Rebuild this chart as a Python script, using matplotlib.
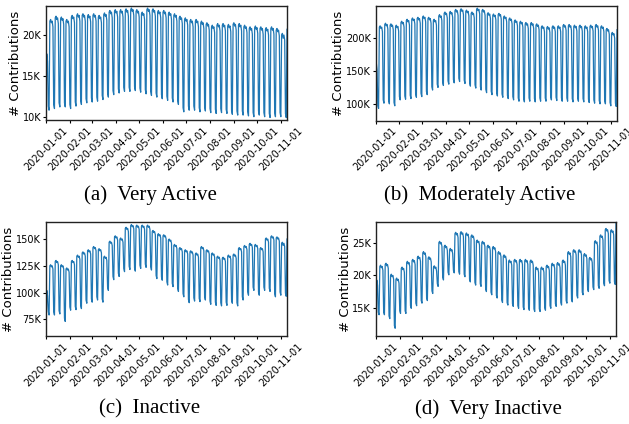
import matplotlib
matplotlib.use("Agg")
import matplotlib.pyplot as plt
import matplotlib.dates as mdates
from matplotlib.ticker import FuncFormatter
import pandas as pd

# ---------------- data (values in thousands of contributions) ----------------
start_date = "2020-01-01"
end_date = "2020-11-09"

# (a) Very Active: first partial week (Wed-Sun), full weeks Mon..Sun, final Monday
va_start = [10.0, 17.7, 16.8, 11.3, 10.8]
va_weeks = [
    [21.7, 21.9, 21.5, 21.7, 21.0, 11.5, 11.0],
    [22.1, 22.3, 21.9, 22.1, 21.4, 11.7, 11.2],
    [22.0, 22.2, 21.8, 22.0, 21.3, 11.7, 11.2],
    [21.7, 21.9, 21.5, 21.7, 21.0, 11.5, 11.0],
    [22.2, 22.4, 22.0, 22.2, 21.5, 11.8, 11.3],
    [22.4, 22.6, 22.2, 22.4, 21.7, 12.0, 11.5],
    [22.4, 22.6, 22.2, 22.4, 21.7, 12.2, 11.7],
    [22.3, 22.5, 22.1, 22.3, 21.6, 12.3, 11.8],
    [22.4, 22.6, 22.2, 22.4, 21.7, 12.4, 11.9],
    [22.2, 22.4, 22.0, 22.2, 21.5, 12.6, 12.1],
    [22.5, 22.7, 22.3, 22.5, 21.8, 12.9, 12.4],
    [22.8, 23.0, 22.6, 22.8, 22.1, 13.2, 12.7],
    [22.9, 23.1, 22.7, 22.9, 22.2, 13.4, 12.9],
    [22.9, 23.1, 22.7, 22.9, 22.2, 13.6, 13.1],
    [23.0, 23.2, 22.8, 23.0, 22.3, 13.6, 13.1],
    [23.1, 23.3, 22.9, 23.1, 22.4, 13.7, 13.2],
    [22.9, 23.1, 22.7, 22.9, 22.2, 13.5, 13.0],
    [22.6, 22.8, 22.4, 22.6, 21.9, 13.3, 12.8],
    [23.1, 23.3, 22.9, 23.1, 22.4, 13.1, 12.6],
    [23.0, 23.2, 22.8, 23.0, 22.3, 12.9, 12.4],
    [22.8, 23.0, 22.6, 22.8, 22.1, 12.7, 12.2],
    [22.8, 23.0, 22.6, 22.8, 22.1, 12.5, 12.0],
    [22.6, 22.8, 22.4, 22.6, 21.9, 12.3, 11.8],
    [22.4, 22.6, 22.2, 22.4, 21.7, 12.0, 11.5],
    [22.1, 22.3, 21.9, 22.1, 21.4, 11.1, 10.6],
    [21.9, 22.1, 21.7, 21.9, 21.2, 11.3, 10.8],
    [21.7, 21.9, 21.5, 21.7, 21.0, 11.3, 10.8],
    [21.7, 21.9, 21.5, 21.7, 21.0, 11.1, 10.6],
    [21.5, 21.7, 21.3, 21.5, 20.8, 11.2, 10.7],
    [21.3, 21.5, 21.1, 21.3, 20.6, 11.0, 10.5],
    [21.0, 21.2, 20.8, 21.0, 20.3, 10.9, 10.4],
    [21.2, 21.4, 21.0, 21.2, 20.5, 11.0, 10.5],
    [21.2, 21.4, 21.0, 21.2, 20.5, 10.9, 10.4],
    [21.1, 21.3, 20.9, 21.1, 20.4, 10.8, 10.3],
    [21.3, 21.5, 21.1, 21.3, 20.6, 10.7, 10.2],
    [21.2, 21.4, 21.0, 21.2, 20.5, 10.7, 10.2],
    [21.0, 21.2, 20.8, 21.0, 20.3, 10.6, 10.1],
    [20.8, 21.0, 20.6, 20.8, 20.1, 10.5, 10.0],
    [20.9, 21.1, 20.7, 20.9, 20.2, 10.7, 10.2],
    [20.8, 21.0, 20.6, 20.8, 20.1, 10.5, 10.0],
    [20.7, 20.9, 20.5, 20.7, 20.0, 10.4, 9.9],
    [20.8, 21.0, 20.6, 20.8, 20.1, 10.5, 10.0],
    [20.6, 20.8, 20.4, 20.6, 19.9, 10.5, 10.0],
    [20.0, 20.2, 19.6, 20.0, 19.4, 10.4, 9.9],
]
va_end = [20.7]

# (b) Moderately Active
ma_start = [78, 163, 152, 97, 93]
ma_weeks = [
    [217, 219, 215, 217, 210, 106, 101],
    [221, 223, 219, 221, 214, 105, 100],
    [220, 222, 218, 220, 213, 102, 97],
    [218, 220, 216, 218, 211, 111, 106],
    [224, 226, 222, 224, 217, 112, 107],
    [227, 229, 225, 227, 220, 113, 108],
    [229, 231, 227, 229, 222, 115, 110],
    [230, 232, 228, 230, 223, 116, 111],
    [232, 234, 230, 232, 225, 119, 114],
    [230, 232, 228, 230, 223, 126, 121],
    [227, 229, 225, 227, 220, 130, 125],
    [234, 236, 232, 234, 227, 133, 128],
    [238, 240, 236, 238, 231, 135, 130],
    [239, 241, 237, 239, 232, 137, 132],
    [242, 244, 240, 242, 235, 139, 134],
    [243, 245, 241, 243, 236, 136, 131],
    [241, 243, 239, 241, 234, 132, 127],
    [238, 240, 236, 238, 231, 129, 124],
    [244, 246, 242, 244, 237, 126, 121],
    [242, 244, 240, 242, 235, 122, 117],
    [237, 239, 235, 237, 230, 119, 114],
    [235, 237, 233, 235, 228, 117, 112],
    [236, 238, 234, 236, 229, 115, 110],
    [232, 234, 230, 232, 225, 113, 108],
    [229, 231, 227, 229, 222, 111, 106],
    [226, 228, 224, 226, 219, 109, 104],
    [224, 226, 222, 224, 217, 108, 103],
    [222, 224, 220, 222, 215, 109, 104],
    [222, 224, 220, 222, 215, 108, 103],
    [220, 222, 218, 220, 213, 109, 104],
    [217, 219, 215, 217, 210, 109, 104],
    [216, 218, 214, 216, 209, 111, 106],
    [217, 219, 215, 217, 210, 110, 105],
    [217, 219, 215, 217, 210, 109, 104],
    [219, 221, 217, 219, 212, 109, 104],
    [219, 221, 217, 219, 212, 108, 103],
    [218, 220, 216, 218, 211, 109, 104],
    [218, 220, 216, 218, 211, 108, 103],
    [217, 219, 215, 217, 210, 107, 102],
    [218, 220, 216, 218, 211, 106, 101],
    [219, 221, 217, 219, 212, 105, 100],
    [217, 219, 215, 217, 210, 105, 100],
    [213, 215, 211, 213, 206, 102, 97],
    [207, 209, 205, 207, 200, 101, 96],
]
ma_end = [213]

# (c) Inactive
ia_start = [61.5, 102, 97, 82, 79]
ia_weeks = [
    [125, 126, 124, 125, 122, 82, 79],
    [129, 130, 128, 129, 126, 83, 80],
    [125, 126, 124, 125, 122, 76, 73],
    [122, 123, 121, 122, 119, 86.5, 83.5],
    [129, 130, 128, 129, 126, 87, 84],
    [134, 135, 133, 134, 131, 88, 85],
    [137, 138, 136, 137, 134, 93, 90],
    [139, 140, 138, 139, 136, 94, 91],
    [142, 143, 141, 142, 139, 96, 93],
    [140, 141, 139, 140, 137, 94, 91],
    [133, 134, 132, 133, 130, 105, 102],
    [147, 148, 146, 147, 144, 115, 112],
    [152, 153, 151, 152, 149, 118, 115],
    [150, 151, 149, 150, 147, 122.5, 119.5],
    [160, 161, 159, 160, 157, 124.5, 121.5],
    [162.5, 163.5, 161.5, 162.5, 159.5, 123, 120],
    [162, 163, 161, 162, 159, 125.5, 122.5],
    [162, 163, 161, 162, 159, 126.5, 123.5],
    [162, 163, 161, 162, 159, 124, 121],
    [157, 158, 156, 157, 154, 116, 113],
    [154, 155, 153, 154, 151, 114.5, 111.5],
    [153, 154, 152, 153, 150, 110, 107],
    [149, 150, 148, 149, 146, 108.5, 105.5],
    [144, 145, 143, 144, 141, 104, 101],
    [141, 142, 140, 141, 138, 99, 96],
    [139, 140, 138, 139, 136, 93.5, 90.5],
    [138, 139, 137, 138, 135, 95, 92],
    [136, 137, 135, 136, 133, 94.5, 91.5],
    [142, 143, 141, 142, 139, 96, 93],
    [139, 140, 138, 139, 136, 92, 89],
    [136, 137, 135, 136, 133, 91, 88],
    [133, 134, 132, 133, 130, 90.5, 87.5],
    [132, 133, 131, 132, 129, 91, 88],
    [134, 135, 133, 134, 131, 93, 90],
    [135, 136, 134, 135, 132, 90.5, 87.5],
    [141, 142, 140, 141, 138, 96, 93],
    [143, 144, 142, 143, 140, 100.5, 97.5],
    [145, 146, 144, 145, 142, 105, 102],
    [144, 145, 143, 144, 141, 100.5, 97.5],
    [141, 142, 140, 141, 138, 105, 102],
    [150, 151, 149, 150, 147, 104, 101],
    [152, 153, 151, 152, 149, 99, 96],
    [151, 152, 150, 151, 148, 100.5, 97.5],
    [146, 147, 144, 146, 143, 99.5, 96.5],
]
ia_end = [150]

# (d) Very Inactive
vi_start = [11.0, 19.3, 18.5, 14.3, 13.9]
vi_weeks = [
    [21.4, 21.6, 21.2, 21.4, 20.8, 14.3, 13.9],
    [21.7, 21.9, 21.5, 21.7, 21.1, 13.7, 13.3],
    [20.0, 20.2, 19.8, 20.0, 19.4, 12.2, 11.8],
    [19.4, 19.6, 19.2, 19.4, 18.8, 14.5, 14.1],
    [21.1, 21.3, 20.9, 21.1, 20.5, 14.5, 14.1],
    [22.0, 22.2, 21.8, 22.0, 21.4, 15.3, 14.9],
    [22.3, 22.5, 22.1, 22.3, 21.7, 15.7, 15.3],
    [22.8, 23.0, 22.6, 22.8, 22.2, 16.1, 15.7],
    [23.5, 23.7, 23.3, 23.5, 22.9, 16.5, 16.1],
    [22.7, 22.9, 22.5, 22.7, 22.1, 17.6, 17.2],
    [21.3, 21.5, 21.1, 21.3, 20.7, 18.7, 18.3],
    [25.1, 25.3, 24.9, 25.1, 24.5, 19.7, 19.3],
    [24.5, 24.7, 24.3, 24.5, 23.9, 20.5, 20.1],
    [24.0, 24.2, 23.8, 24.0, 23.4, 20.8, 20.4],
    [26.5, 26.7, 26.3, 26.5, 25.9, 20.6, 20.2],
    [26.6, 26.8, 26.4, 26.6, 26.0, 20.2, 19.8],
    [26.4, 26.6, 26.2, 26.4, 25.8, 19.4, 19.0],
    [26.1, 26.3, 25.9, 26.1, 25.5, 18.9, 18.5],
    [25.3, 25.5, 25.1, 25.3, 24.7, 18.7, 18.3],
    [25.1, 25.3, 24.9, 25.1, 24.5, 17.9, 17.5],
    [24.5, 24.7, 24.3, 24.5, 23.9, 17.4, 17.0],
    [24.3, 24.5, 24.1, 24.3, 23.7, 16.9, 16.5],
    [23.5, 23.7, 23.3, 23.5, 22.9, 16.2, 15.8],
    [23.0, 23.2, 22.8, 23.0, 22.4, 15.8, 15.4],
    [22.2, 22.4, 22.0, 22.2, 21.6, 15.6, 15.2],
    [22.3, 22.5, 22.1, 22.3, 21.7, 15.3, 14.9],
    [22.3, 22.5, 22.1, 22.3, 21.7, 15.1, 14.7],
    [22.3, 22.5, 22.1, 22.3, 21.7, 15.0, 14.6],
    [22.2, 22.4, 22.0, 22.2, 21.6, 14.8, 14.4],
    [21.1, 21.3, 20.9, 21.1, 20.5, 14.8, 14.4],
    [21.1, 21.3, 20.9, 21.1, 20.5, 15.0, 14.6],
    [21.4, 21.6, 21.2, 21.4, 20.8, 15.3, 14.9],
    [21.7, 21.9, 21.5, 21.7, 21.1, 15.6, 15.2],
    [21.8, 22.0, 21.6, 21.8, 21.2, 15.8, 15.4],
    [22.2, 22.4, 22.0, 22.2, 21.6, 16.1, 15.7],
    [23.5, 23.7, 23.3, 23.5, 22.9, 16.3, 15.9],
    [23.8, 24.0, 23.6, 23.8, 23.2, 16.9, 16.5],
    [23.8, 24.0, 23.6, 23.8, 23.2, 17.4, 17.0],
    [23.2, 23.4, 23.0, 23.2, 22.6, 17.9, 17.5],
    [22.6, 22.8, 22.4, 22.6, 22.0, 18.2, 17.8],
    [25.2, 25.4, 25.0, 25.2, 24.6, 18.4, 18.0],
    [26.1, 26.3, 25.9, 26.1, 25.5, 18.8, 18.4],
    [27.1, 27.3, 26.9, 27.1, 26.5, 19.2, 18.8],
    [26.9, 27.1, 26.7, 26.9, 26.3, 19.0, 18.6],
]
vi_end = [28.2]

captions = ["(a)  Very Active", "(b)  Moderately Active",
            "(c)  Inactive", "(d)  Very Inactive"]
yticks_a = [10, 15, 20]
yticks_b = [100, 150, 200]
yticks_c = [75, 100, 125, 150]
yticks_d = [15, 20, 25]


def assemble(start, weeks, end):
    vals = list(start)
    for w in weeks:
        vals.extend(w)
    vals.extend(end)
    return vals


dates = pd.date_range(start_date, end_date, freq="D")
series = [
    assemble(va_start, va_weeks, va_end),
    assemble(ma_start, ma_weeks, ma_end),
    assemble(ia_start, ia_weeks, ia_end),
    assemble(vi_start, vi_weeks, vi_end),
]
for s in series:
    assert len(s) == len(dates), (len(s), len(dates))

# ---------------- layout ----------------
W, H = 629, 424
fig = plt.figure(figsize=(W / 100, H / 100), dpi=100)


def px_axes(left, top, right, bottom):
    return fig.add_axes([left / W, 1 - bottom / H, (right - left) / W, (bottom - top) / H])


axes = [
    px_axes(46, 6, 287, 120),
    px_axes(375.5, 6, 617, 120.5),
    px_axes(46, 222, 287, 336),
    px_axes(376, 222, 616, 336),
]
ylims = [(9.6, 23.55), (74.6, 249.2), (59.4, 165.9), (10.6, 28.3)]
yticks = [yticks_a, yticks_b, yticks_c, yticks_d]
kfmt = FuncFormatter(lambda v, p: f"{v:g}K")

for ax, s, yl, yt in zip(axes, series, ylims, yticks):
    ax.plot(dates, s, color="#1f77b4", lw=0.9)
    ax.set_xlim(dates[0], dates[-1])
    ax.set_ylim(*yl)
    ax.set_yticks(yt)
    ax.yaxis.set_major_formatter(kfmt)
    ax.xaxis.set_major_locator(mdates.MonthLocator())
    ax.xaxis.set_major_formatter(mdates.DateFormatter("%Y-%m-%d"))
    ax.tick_params(axis="both", which="major", length=2, width=0.8, labelsize=7)
    ax.tick_params(axis="y", pad=1.5)
    ax.tick_params(axis="x", pad=2.0)
    for lab in ax.get_xticklabels():
        lab.set_rotation(45)
    ax.set_ylabel("# Contributions", fontsize=9.5, labelpad=0.5)
    for sp in ax.spines.values():
        sp.set_linewidth(1.0)
        sp.set_color("#222222")

cap_pos = [(150, 195), (480, 195), (150, 409), (488, 409)]
for (cx, cy), txt in zip(cap_pos, captions):
    fig.text(cx / W, 1 - cy / H, txt, ha="center", va="center",
             fontsize=15, family="Liberation Serif")

fig.savefig("out.png", dpi=100)
